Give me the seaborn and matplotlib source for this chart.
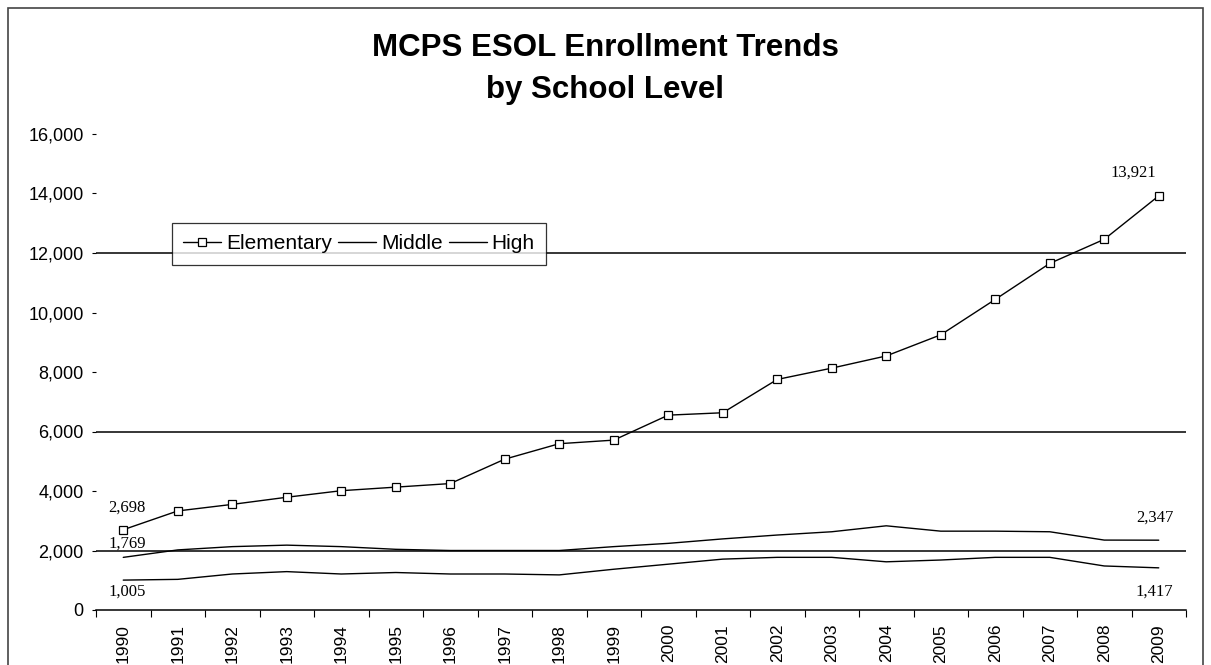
import numpy as np
import pandas as pd
import matplotlib
matplotlib.use("Agg")
import matplotlib.pyplot as plt
from matplotlib.patches import Rectangle
from matplotlib.ticker import FuncFormatter, FixedLocator
import seaborn as sns

# ---- data ----
years = [str(y) for y in range(1990, 2010)]
elementary = [2698, 3330, 3550, 3790, 4010, 4130, 4250, 5070, 5590, 5710,
              6550, 6630, 7750, 8130, 8540, 9250, 10440, 11650, 12460, 13921]
middle = [1769, 2020, 2130, 2180, 2130, 2040, 2000, 2000, 2000, 2130,
          2240, 2390, 2520, 2630, 2830, 2650, 2650, 2630, 2350, 2347]
high = [1005, 1030, 1210, 1290, 1210, 1260, 1210, 1210, 1180, 1370,
        1540, 1710, 1770, 1770, 1620, 1680, 1770, 1770, 1480, 1417]
series_names = ["Elementary", "Middle", "High"]
y_ticks = list(range(0, 16001, 2000))
visible_grid = [2000, 6000, 12000]

sns.set_theme(style="white")
plt.rcParams["font.family"] = ["Liberation Sans", "DejaVu Sans"]
plt.rcParams["text.color"] = "black"
plt.rcParams["xtick.color"] = "black"
plt.rcParams["ytick.color"] = "black"
plt.rcParams["axes.labelcolor"] = "black"

pos = np.arange(len(years))
df = pd.DataFrame({"pos": np.tile(pos, 3),
                   "value": elementary + middle + high,
                   "level": np.repeat(series_names, len(years))})

fig = plt.figure(figsize=(12.11, 6.65), dpi=100)
ax = fig.add_axes([96 / 1211, 55 / 665, 1090 / 1211, 476 / 665])

for yv in visible_grid:
    ax.axhline(yv, color="black", lw=1.1, zorder=1)

sns.lineplot(data=df[df.level == "Elementary"], x="pos", y="value", ax=ax,
             color="black", lw=1, marker="s", markersize=5.5,
             markerfacecolor="white", markeredgecolor="black",
             markeredgewidth=0.9, label="Elementary", zorder=3)
sns.lineplot(data=df[df.level == "Middle"], x="pos", y="value", ax=ax,
             color="black", lw=1, label="Middle", zorder=3)
sns.lineplot(data=df[df.level == "High"], x="pos", y="value", ax=ax,
             color="black", lw=1, label="High", zorder=3)

ax.set_xlim(-0.5, len(years) - 0.5)
ax.set_ylim(0, 16000)
ax.set_xlabel("")
ax.set_ylabel("")

ax.yaxis.set_major_locator(FixedLocator(y_ticks))
ax.yaxis.set_major_formatter(FuncFormatter(lambda v, p: f"{int(v):,}"))
ax.tick_params(axis="y", which="major", left=True, direction="out",
               length=3, width=0.8, pad=6, labelsize=13, colors="black")

ax.set_xticks(pos)
ax.set_xticklabels(years, rotation=90, fontsize=12.5)
ax.set_xticks(np.arange(-0.5, len(years), 1.0), minor=True)
ax.tick_params(axis="x", which="major", length=0, pad=10, colors="black")
ax.tick_params(axis="x", which="minor", bottom=True, direction="out",
               length=5, width=0.8, color="black")

for s in ["left", "top", "right"]:
    ax.spines[s].set_visible(False)
ax.spines["bottom"].set_color("black")
ax.spines["bottom"].set_linewidth(1.1)

# data labels (first and last values)
lab_kw = dict(textcoords="offset points", ha="center", va="center",
              fontsize=12, family=["Liberation Serif"], color="black")
ax.annotate(f"{elementary[0]:,}", (pos[0], elementary[0]), xytext=(3, 16), **lab_kw)
ax.annotate(f"{middle[0]:,}", (pos[0], middle[0]), xytext=(3, 10), **lab_kw)
ax.annotate(f"{high[0]:,}", (pos[0], high[0]), xytext=(3, -8), **lab_kw)
ax.annotate(f"{elementary[-1]:,}", (pos[-1], elementary[-1]), xytext=(-18, 17), **lab_kw)
ax.annotate(f"{middle[-1]:,}", (pos[-1], middle[-1]), xytext=(-3, 16), **lab_kw)
ax.annotate(f"{high[-1]:,}", (pos[-1], high[-1]), xytext=(-3, -17), **lab_kw)

leg = ax.legend(loc="upper left", bbox_to_anchor=(172 / 1211, 1 - 223 / 665),
                bbox_transform=fig.transFigure, ncol=3, frameon=True,
                fancybox=False, fontsize=15, handlelength=1.8,
                handletextpad=0.25, columnspacing=0.3, borderpad=0.55,
                borderaxespad=0)
leg.get_frame().set_edgecolor("black")
leg.get_frame().set_linewidth(0.9)
for t in leg.get_texts():
    t.set_color("black")

fig.text(0.5, 1 - 69 / 665, "MCPS ESOL Enrollment Trends\nby School Level",
         ha="center", va="center", fontsize=22.5, fontweight="bold",
         linespacing=1.5, color="black")

fig.patches.append(Rectangle((8 / 1211, -0.05), (1203 - 8) / 1211, 1.05 - 8 / 665,
                             transform=fig.transFigure, fill=False,
                             edgecolor="#444444", lw=1.2))

fig.savefig("out.png", dpi=100)
